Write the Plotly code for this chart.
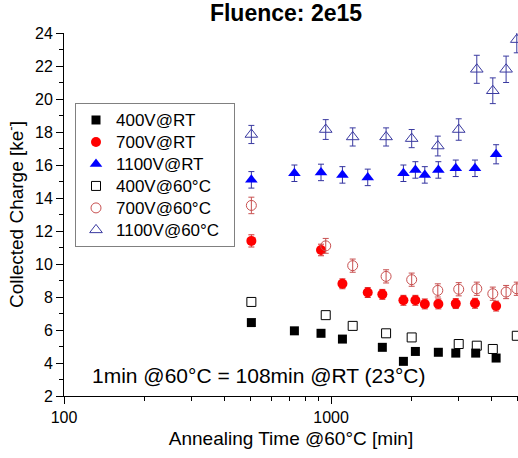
import plotly.graph_objects as go

# ---------------- data ----------------
# 400V@RT
x_400rt = [503, 729, 917, 1103, 1556, 1866, 2069, 2522, 2931, 3480, 4150]
y_400rt = [6.45, 5.95, 5.8, 5.45, 4.95, 4.1, 4.7, 4.65, 4.6, 4.6, 4.3]

# 700V@RT
x_700rt = [503, 917, 1103, 1372, 1556, 1866, 2069, 2244, 2522, 2931, 3459, 4150]
y_700rt = [11.4, 10.85, 8.8, 8.27, 8.16, 7.8, 7.8, 7.58, 7.58, 7.6, 7.62, 7.45]
e_700rt = [0.37, 0.35, 0.3, 0.3, 0.3, 0.3, 0.3, 0.3, 0.3, 0.3, 0.3, 0.3]

# 1100V@RT
x_1100rt = [503, 729, 917, 1103, 1372, 1866, 2069, 2244, 2522, 2931, 3459, 4150]
y_1100rt = [15.1, 15.5, 15.55, 15.4, 15.25, 15.5, 15.7, 15.4, 15.7, 15.8, 15.8, 16.65]
e_1100rt = [0.5, 0.5, 0.5, 0.5, 0.5, 0.5, 0.5, 0.5, 0.5, 0.5, 0.5, 0.58]

# 400V@60°C
x_400ht = [503, 955, 1205, 1607, 2004, 3006, 3513, 4033, 4960]
y_400ht = [7.7, 6.9, 6.25, 5.8, 5.55, 5.15, 5.05, 4.85, 5.65]

# 700V@60°C
x_700ht = [503, 955, 1205, 1607, 2004, 2510, 3006, 3513, 4033, 4523, 4960]
y_700ht = [13.55, 11.1, 9.9, 9.25, 9.05, 8.4, 8.47, 8.5, 8.2, 8.3, 8.5]
e_700ht = [0.5, 0.45, 0.4, 0.4, 0.4, 0.4, 0.4, 0.4, 0.4, 0.4, 0.4]

# 1100V@60°C
x_1100ht = [503, 955, 1205, 1607, 2004, 2510, 3006, 3513, 4033, 4523, 4960]
y_1100ht = [17.85, 18.15, 17.7, 17.7, 17.6, 17.15, 18.15, 21.8, 20.5, 21.8, 23.6]
e_1100ht = [0.55, 0.6, 0.55, 0.55, 0.55, 0.6, 0.65, 0.85, 0.78, 0.8, 0.8]

FONT = "Arial, Liberation Sans, sans-serif"

fig = go.Figure()

def add(name, xs, ys, errs, symbol, color, ecolor, size):
    err = dict(type="data", array=errs, visible=True, color=ecolor,
               thickness=1, width=3) if errs is not None else dict(visible=False)
    open_ = symbol.endswith("-open")
    marker = dict(symbol=symbol, size=size, color=color,
                  line=dict(width=1, color=color) if open_ else dict(width=0))
    label = '<span style="font-size:17px">' + name + '\u00a0\u00a0</span>'
    fig.add_trace(go.Scatter(x=xs, y=ys, mode="markers", name=label,
                             marker=marker, error_y=err))

add("400V@RT", x_400rt, y_400rt, None, "square", "#000000", "#000000", 9)
add("700V@RT", x_700rt, y_700rt, e_700rt, "circle", "#ff0000", "#d03030", 10)
add("1100V@RT", x_1100rt, y_1100rt, e_1100rt, "triangle-up", "#0000ff", "#3333a0", 11)
add("400V@60°C", x_400ht, y_400ht, None, "square-open", "#000000", "#000000", 9)
add("700V@60°C", x_700ht, y_700ht, e_700ht, "circle-open", "#c85050", "#c85050", 10)
add("1100V@60°C", x_1100ht, y_1100ht, e_1100ht, "triangle-up-open", "#3a3aa0", "#3a3aa0", 11)

fig.update_layout(
    width=518, height=458,
    margin=dict(l=64, r=0, t=33, b=62),
    paper_bgcolor="white", plot_bgcolor="white",
    font=dict(family=FONT, color="black", size=16),
    title=dict(text="<b>Fluence: 2e15</b>", x=286/518, xref="container", xanchor="center",
               y=1-13/458, yref="container", yanchor="middle",
               font=dict(size=23, family=FONT, color="black")),
    showlegend=True,
    legend=dict(x=(75-64)/454, y=1-(103-33)/363, xanchor="left", yanchor="top",
                bordercolor="#808080", borderwidth=1, bgcolor="white",
                font=dict(size=14.6, family=FONT), tracegroupgap=0,
                itemwidth=30),
    xaxis=dict(type="log", range=[2, 3.7], showgrid=False, zeroline=False,
               showline=True, linecolor="black", linewidth=1,
               ticks="outside", ticklen=7, tickcolor="black",
               tickvals=[100, 1000], ticktext=["100", "1000"],
               tickfont=dict(size=16),
               minor=dict(ticks="outside", ticklen=4, tickcolor="black",
                          tickvals=[200, 300, 400, 500, 600, 700, 800, 900,
                                    2000, 3000, 4000, 5000]),
               title=dict(text="Annealing Time @60°C [min]", font=dict(size=19),
                          standoff=6)),
    yaxis=dict(range=[2, 24], showgrid=False, zeroline=False,
               showline=True, linecolor="black", linewidth=1,
               ticks="outside", ticklen=7, tickcolor="black", dtick=2, tick0=0,
               tickfont=dict(size=16),
               minor=dict(ticks="outside", ticklen=4, tickcolor="black", dtick=1),
               title=dict(text="Collected Charge [ke<sup>-</sup>]", font=dict(size=19),
                          standoff=6)),
)

fig.add_annotation(text="1min @60°C = 108min @RT (23°C)", x=(90-64)/454, xref="paper",
                   xanchor="left", y=3.27, yref="y", yanchor="middle",
                   showarrow=False, font=dict(size=21, family=FONT, color="black"))

fig.write_html("out.html")
